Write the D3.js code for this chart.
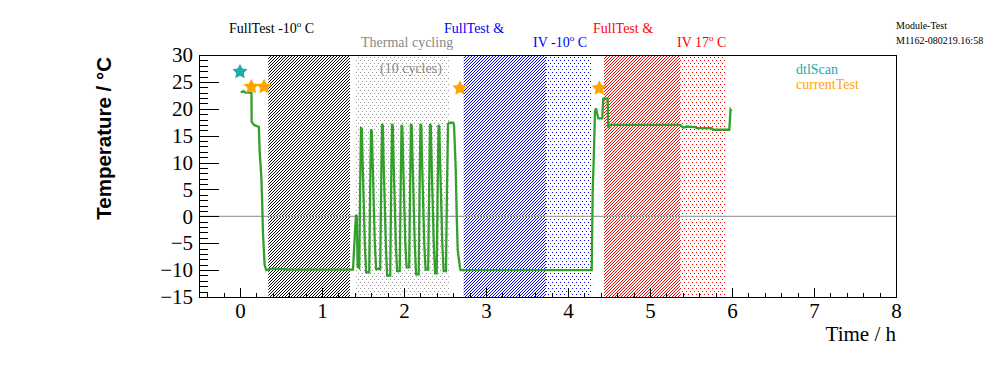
<!DOCTYPE html>
<html>
<head>
<meta charset="utf-8">
<script src="https://cdn.jsdelivr.net/npm/d3@7"></script>
<style>
  body { margin: 0; background: #fff; }
  svg { display: block; font-family: "Liberation Serif", "DejaVu Serif", serif; }
</style>
</head>
<body>
<div id="chart"></div>
<script>
// temperature log of the module test, time in hours
var timeH = [
  0.01, 0.04, 0.07, 0.14, 0.142, 0.17, 0.23, 0.24, 0.26, 0.27, 0.28, 0.30, 0.32, 0.40, 0.60, 1.00, 1.378,
  1.402, 1.415, 1.424, 1.435,
  1.454, 1.466, 1.476, 1.486, 1.494, 1.508, 1.522, 1.538,
  1.576, 1.588, 1.598, 1.608, 1.616, 1.630, 1.644, 1.660,
  1.710, 1.722, 1.732, 1.742, 1.750, 1.764, 1.778, 1.794,
  1.832, 1.844, 1.854, 1.864, 1.872, 1.886, 1.900, 1.916,
  1.948, 1.960, 1.970, 1.980, 1.988, 2.002, 2.016, 2.032,
  2.063, 2.075, 2.085, 2.095, 2.103, 2.117, 2.131, 2.147,
  2.179, 2.191, 2.201, 2.211, 2.219, 2.233, 2.247, 2.263,
  2.295, 2.307, 2.317, 2.327, 2.335, 2.349, 2.363, 2.379,
  2.399, 2.411, 2.421, 2.431, 2.439, 2.453, 2.467, 2.483,
  2.512, 2.524, 2.537, 2.550, 2.600, 2.610, 2.630, 2.643, 2.655, 2.683, 2.690,
  3.50, 4.289,
  4.301, 4.317, 4.329, 4.341, 4.370, 4.418, 4.430, 4.484, 4.491, 4.506,
  5.366, 5.406, 5.450, 5.549, 5.573, 5.752, 5.768, 5.967, 5.982, 5.994
];
var tempC = [
  23.0, 23.3, 23.0, 23.0, 17.6, 17.0, 16.6, 12.0, 7.4, 3.0, -3.1, -9.0, -10.0, -9.7, -9.9, -9.9, -9.9,
  -3.0, 0.3, 0.0, -9.4,
  -9.6, 6, 16.6, 16.2, 11, 3, -5, -10.4,
  -10.4, 6, 16.2, 15.8, 11, 3, -5, -9.8,
  -9.8, 6, 17.2, 16.8, 11, 3, -5, -11.0,
  -11.0, 6, 17.2, 16.8, 11, 3, -5, -10.2,
  -10.2, 6, 17.0, 16.6, 11, 3, -5, -9.5,
  -9.5, 6, 17.2, 16.8, 11, 3, -5, -10.8,
  -10.8, 6, 17.2, 16.8, 11, 3, -5, -9.9,
  -9.9, 6, 17.2, 16.8, 11, 3, -5, -10.6,
  -10.6, 6, 17.0, 16.6, 11, 3, -5, -10.2,
  -10.2, 5, 17.1, 17.4, 17.4, 17.0, 9.2, 0.0, -6.3, -9.6, -10.0,
  -10.0, -10.0,
  4.6, 12.3, 19.4, 20.1, 18.2, 18.2, 21.9, 21.9, 16.4, 17.0,
  17.0, 16.5, 16.7, 16.6, 16.4, 16.4, 16.1, 16.1, 19.8, 19.5
];

var dtlScanTimes = [0.0];
var dtlScanTemps = [26.9];
var currentTestTimes = [0.138, 0.293, 2.683, 4.382];
var currentTestTemps = [24.1, 24.1, 23.8, 23.8];

// shaded test phases
var bandStart = [0.345, 1.411, 2.728, 3.732, 4.439, 5.366];
var bandEnd = [1.341, 2.552, 3.732, 4.280, 5.366, 5.915];
var bandFill = ["hatch-k", "dots-g", "hatch-b", "dots-b", "hatch-r", "dots-r"];

var xTicks = [0, 1, 2, 3, 4, 5, 6, 7, 8];
var yTicks = [-15, -10, -5, 0, 5, 10, 15, 20, 25, 30];

var W = 996, H = 372;
var padL = 199, padR = 896, padT = 55, padB = 297;

var svg = d3.select("#chart").append("svg")
  .attr("width", W)
  .attr("height", H);

var x = d3.scaleLinear().domain([-0.5, 8]).range([padL, padR]);
var y = d3.scaleLinear().domain([-15, 30]).range([padB, padT]);

// fill patterns, ROOT style (1px cells)
var defs = svg.append("defs");
function makePattern(id, color, w, h, cellPath) {
  defs.append("pattern").attr("id", id)
    .attr("patternUnits", "userSpaceOnUse")
    .attr("width", w).attr("height", h)
    .append("path")
    .attr("d", cellPath)
    .attr("fill", color)
    .attr("shape-rendering", "crispEdges");
}
var hatchPath = "M2,0h1v1h-1z M1,1h1v1h-1z M0,2h1v1h-1z";
var dotPath = "M0,0h1v1h-1z M2,3h1v1h-1z";
makePattern("hatch-k", "#000000", 3, 3, hatchPath);
makePattern("hatch-b", "#0000ff", 3, 3, hatchPath);
makePattern("hatch-r", "#ff0000", 3, 3, hatchPath);
makePattern("dots-g", "#999999", 4, 6, dotPath);
makePattern("dots-b", "#0000ff", 4, 6, dotPath);
makePattern("dots-r", "#ff0000", 4, 6, dotPath);

svg.selectAll("rect.band")
  .data(bandStart)
  .enter().append("rect")
  .attr("class", "band")
  .attr("x", function (d) { return x(d); })
  .attr("y", y(30))
  .attr("width", function (d, i) { return x(bandEnd[i]) - x(d); })
  .attr("height", y(-15) - y(30))
  .attr("fill", function (d, i) { return "url(#" + bandFill[i] + ")"; });

// zero line
svg.append("line")
  .attr("x1", padL).attr("x2", padR)
  .attr("y1", y(0)).attr("y2", y(0))
  .attr("stroke", "#a0a0a0").attr("stroke-width", 1.2);

var line = d3.line()
  .x(function (d, i) { return x(timeH[i]); })
  .y(function (d) { return y(d); });

svg.append("path")
  .attr("d", line(tempC))
  .attr("fill", "none")
  .attr("stroke", "#33a02c")
  .attr("stroke-width", 2.3)
  .attr("stroke-linejoin", "miter");

function starPath(r1, r2) {
  var pts = [];
  for (var i = 0; i < 10; i++) {
    var r = i % 2 ? r2 : r1;
    var a = Math.PI * i / 5 - Math.PI / 2;
    pts.push([r * Math.cos(a), r * Math.sin(a)]);
  }
  return "M" + pts.join("L") + "Z";
}

svg.selectAll("path.dtl")
  .data(dtlScanTimes)
  .enter().append("path")
  .attr("class", "dtl")
  .attr("d", starPath(8, 4))
  .attr("transform", function (d, i) { return "translate(" + x(d) + "," + y(dtlScanTemps[i]) + ")"; })
  .attr("fill", "#22abab");

svg.selectAll("path.cur")
  .data(currentTestTimes)
  .enter().append("path")
  .attr("class", "cur")
  .attr("d", starPath(8, 4))
  .attr("transform", function (d, i) { return "translate(" + x(d) + "," + y(currentTestTemps[i]) + ")"; })
  .attr("fill", "#ffa500");

// axes, ticks pointing inside
var xAxis = svg.append("g").attr("transform", "translate(0," + padB + ")");
xAxis.call(d3.axisBottom(x).tickValues(d3.range(-0.4, 8.01, 0.2)).tickSize(-4.5).tickFormat(""));
xAxis.append("g").call(d3.axisBottom(x).tickValues(xTicks).tickSize(-9).tickPadding(6).tickFormat(d3.format("d")));

var yAxis = svg.append("g").attr("transform", "translate(" + padL + ",0)");
yAxis.call(d3.axisLeft(y).tickValues(d3.range(-15, 30.01, 1)).tickSize(-9).tickFormat(""));
yAxis.append("g").call(d3.axisLeft(y).tickValues(yTicks).tickSize(-20).tickPadding(6).tickFormat(d3.format("d")));

svg.selectAll(".domain").remove();
svg.selectAll(".tick line").attr("stroke", "#000").attr("shape-rendering", "crispEdges");
svg.selectAll(".tick text")
  .attr("font-family", "Liberation Serif")
  .attr("font-size", 21)
  .attr("fill", "#000");

svg.append("rect")
  .attr("x", padL).attr("y", padT)
  .attr("width", padR - padL).attr("height", padB - padT)
  .attr("fill", "none").attr("stroke", "#000")
  .attr("shape-rendering", "crispEdges");

svg.append("text")
  .attr("x", padR).attr("y", 341)
  .attr("text-anchor", "end")
  .attr("font-size", 21)
  .text("Time / h");

svg.append("text")
  .attr("transform", "translate(111,57) rotate(-90)")
  .attr("text-anchor", "end")
  .attr("font-family", "Liberation Sans")
  .attr("font-weight", "bold")
  .attr("font-size", 20.5)
  .text("Temperature / °C");

// phase labels
function label(px, py, color, before, after) {
  var t = svg.append("text").attr("x", px).attr("y", py)
    .attr("font-size", 14).attr("fill", color);
  t.append("tspan").text(before);
  if (after !== undefined) {
    t.append("tspan").attr("font-size", 9).attr("dy", -6).text("o");
    t.append("tspan").attr("dy", 6).text(after);
  }
}
label(229, 33, "#000", "FullTest -10", " C");
label(361, 47, "#888", "Thermal cycling");
label(380, 73, "#888", "(10 cycles)");
label(444, 33, "#0000ff", "FullTest &");
label(533, 47, "#0000ff", "IV -10", " C");
label(593, 33, "#ff0000", "FullTest &");
label(677, 47, "#ff0000", "IV 17", " C");

svg.append("text").attr("x", 896).attr("y", 29).attr("font-size", 10).text("Module-Test");
svg.append("text").attr("x", 896).attr("y", 44).attr("font-size", 10).text("M1162-080219.16:58");

// legend
svg.append("text").attr("x", 796).attr("y", 74).attr("font-size", 14).attr("fill", "#22abab").text("dtlScan");
svg.append("text").attr("x", 796).attr("y", 89).attr("font-size", 14).attr("fill", "#ffa500").text("currentTest");
</script>
</body>
</html>
